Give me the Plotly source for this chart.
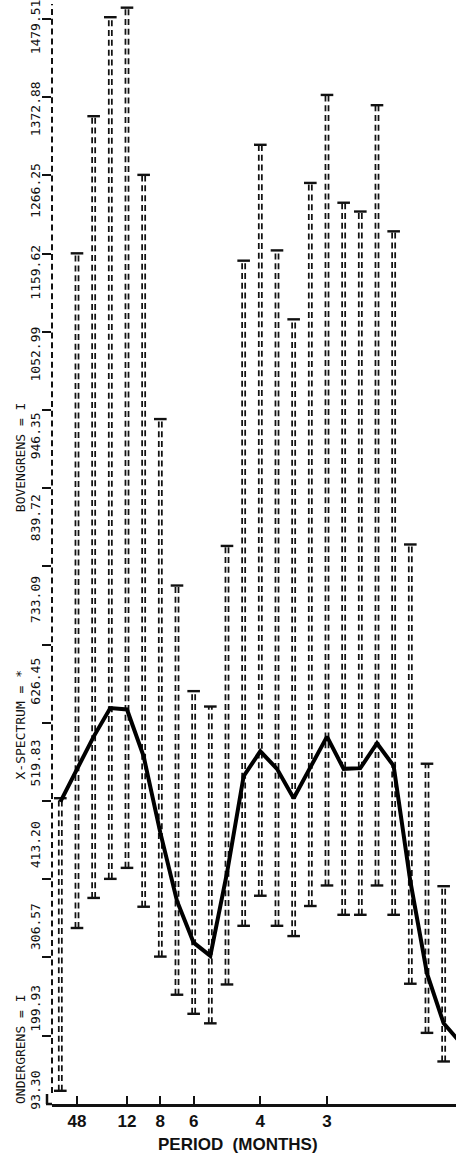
import plotly.graph_objects as go

# ---------------- data ----------------
series_length = 48                       # months -> harmonic k has frequency k/48
harmonics = list(range(25))

spectrum = [412, 457, 501, 540, 538, 474, 370, 277, 220, 202, 315, 447, 481,
            457, 417, 459, 501, 457, 458, 492, 461, 304, 178, 110, 84]
upper = [417, 1160, 1347, 1482, 1495, 1267, 934, 707, 563, 542, 761, 1150,
         1308, 1164, 1070, 1256, 1376, 1229, 1217, 1362, 1190, 763, 464, 297]
lower = [18, 240, 281, 307, 322, 269, 201, 149, 123, 110, 163, 243, 284,
         243, 229, 270, 298, 258, 258, 298, 258, 164, 97, 58]

y_tick_values = [93.30, 199.93, 306.57, 413.20, 519.83, 626.46, 733.09,
                 839.72, 946.35, 1052.99, 1159.62, 1266.25, 1372.88, 1479.51]
y_tick_labels = ["93.30", "199.93", "306.57", "413.20", "519.83", "626.45",
                 "733.09", "839.72", "946.35", "1052.99", "1159.62",
                 "1266.25", "1372.88", "1479.51"]

periods = [48, 12, 8, 6, 4, 3]
period_labels = ["48", "12", "8", "6", "4", "3"]

legend_lines = ["ONDERGRENS = I", "X-SPECTRUM = *", "BOVENGRENS = I"]
x_title = "PERIOD  (MONTHS)"

# ---------------- build ----------------
freq = [k / series_length for k in harmonics]
n_bars = len(upper)

bx, by = [], []
for k in range(n_bars):
    bx += [freq[k], freq[k], None]
    by += [lower[k], upper[k], None]

INK = "#111111"
DASH = "6px,3.8px"
MONO = "DejaVu Sans Mono, Liberation Mono, monospace"
SANS = "Liberation Sans, Arial, sans-serif"

fig = go.Figure()

# confidence bands: double dashed columns ("=" characters of the printer)
fig.add_trace(go.Scatter(x=bx, y=by, mode="lines", hoverinfo="skip",
                         line=dict(color=INK, width=4.8, dash=DASH)))
fig.add_trace(go.Scatter(x=bx, y=by, mode="lines", hoverinfo="skip",
                         line=dict(color="white", width=1.3)))
# caps (upper / lower bound marks)
fig.add_trace(go.Scatter(x=freq[:n_bars] * 2, y=upper + lower, mode="markers",
                         hoverinfo="skip",
                         marker=dict(symbol="line-ew", size=9,
                                     line=dict(color=INK, width=2.4))))
# spectrum (hand drawn solid line)
fig.add_trace(go.Scatter(x=freq, y=spectrum, mode="lines",
                         line=dict(color="black", width=4)))
# invisible trace that carries the printed scale labels (printed at their own pitch)
fig.add_trace(go.Scatter(x=[freq[0]], y=[y_tick_values[0]], yaxis="y2",
                         mode="markers", marker=dict(opacity=0),
                         hoverinfo="skip"))

# dashed value axis
fig.add_shape(type="line", xref="paper", yref="paper", x0=0, x1=0, y0=0.01, y1=1,
              line=dict(color=INK, width=2, dash=DASH))
# corner of the frame (short stub left of the value axis)
fig.add_shape(type="line", xref="paper", yref="paper", xsizemode="pixel",
              xanchor=0, x0=-6, x1=0, y0=0, y1=0,
              line=dict(color=INK, width=2.5))
fig.add_shape(type="line", xref="paper", yref="paper", xsizemode="pixel",
              ysizemode="pixel", xanchor=0, yanchor=0, x0=-5, x1=-5, y0=0, y1=10,
              line=dict(color=INK, width=2.5))

# legend text printed along the left edge
legend_y = [0.05, 0.345, 0.588]
for txt, yy in zip(legend_lines, legend_y):
    fig.add_annotation(text=txt, xref="paper", yref="paper", x=0, y=yy,
                       xshift=-32, xanchor="center", yanchor="middle",
                       showarrow=False, textangle=-90,
                       font=dict(family=MONO, size=13, color=INK))

fig.add_annotation(text=x_title, xref="paper", yref="paper", x=0.46, y=0,
                   yshift=-40, showarrow=False, yanchor="middle",
                   font=dict(family=SANS, size=17, color=INK, weight="bold"))

fig.update_layout(
    width=456, height=1153, autosize=False,
    margin=dict(l=52, r=0, t=1, b=49),
    paper_bgcolor="white", plot_bgcolor="white",
    showlegend=False,
    xaxis=dict(range=[-0.0104, 0.4946], showgrid=False, zeroline=False,
               showline=True, linecolor=INK, linewidth=2.5,
               tickvals=[1 / p for p in periods], ticktext=period_labels,
               ticks="inside", ticklen=8, tickwidth=2, tickcolor=INK,
               tickfont=dict(family=SANS, size=17, color=INK, weight="bold")),
    yaxis=dict(range=[0, 1500], showgrid=False, zeroline=False, showline=False,
               tickvals=y_tick_values, showticklabels=False,
               ticks="outside", ticklen=9, tickwidth=2, tickcolor=INK),
    yaxis2=dict(overlaying="y", side="left", range=[77.7, 1512],
                showgrid=False, zeroline=False, showline=False,
                tickvals=y_tick_values, ticktext=y_tick_labels,
                ticks="", ticklabelstandoff=8, tickangle=-90,
                ticklabeloverflow="allow",
                tickfont=dict(family=MONO, size=13, color=INK)),
)

fig.write_html("out.html", config={"displayModeBar": False},
               post_script="document.body.style.margin='0';document.body.style.overflow='hidden';")
